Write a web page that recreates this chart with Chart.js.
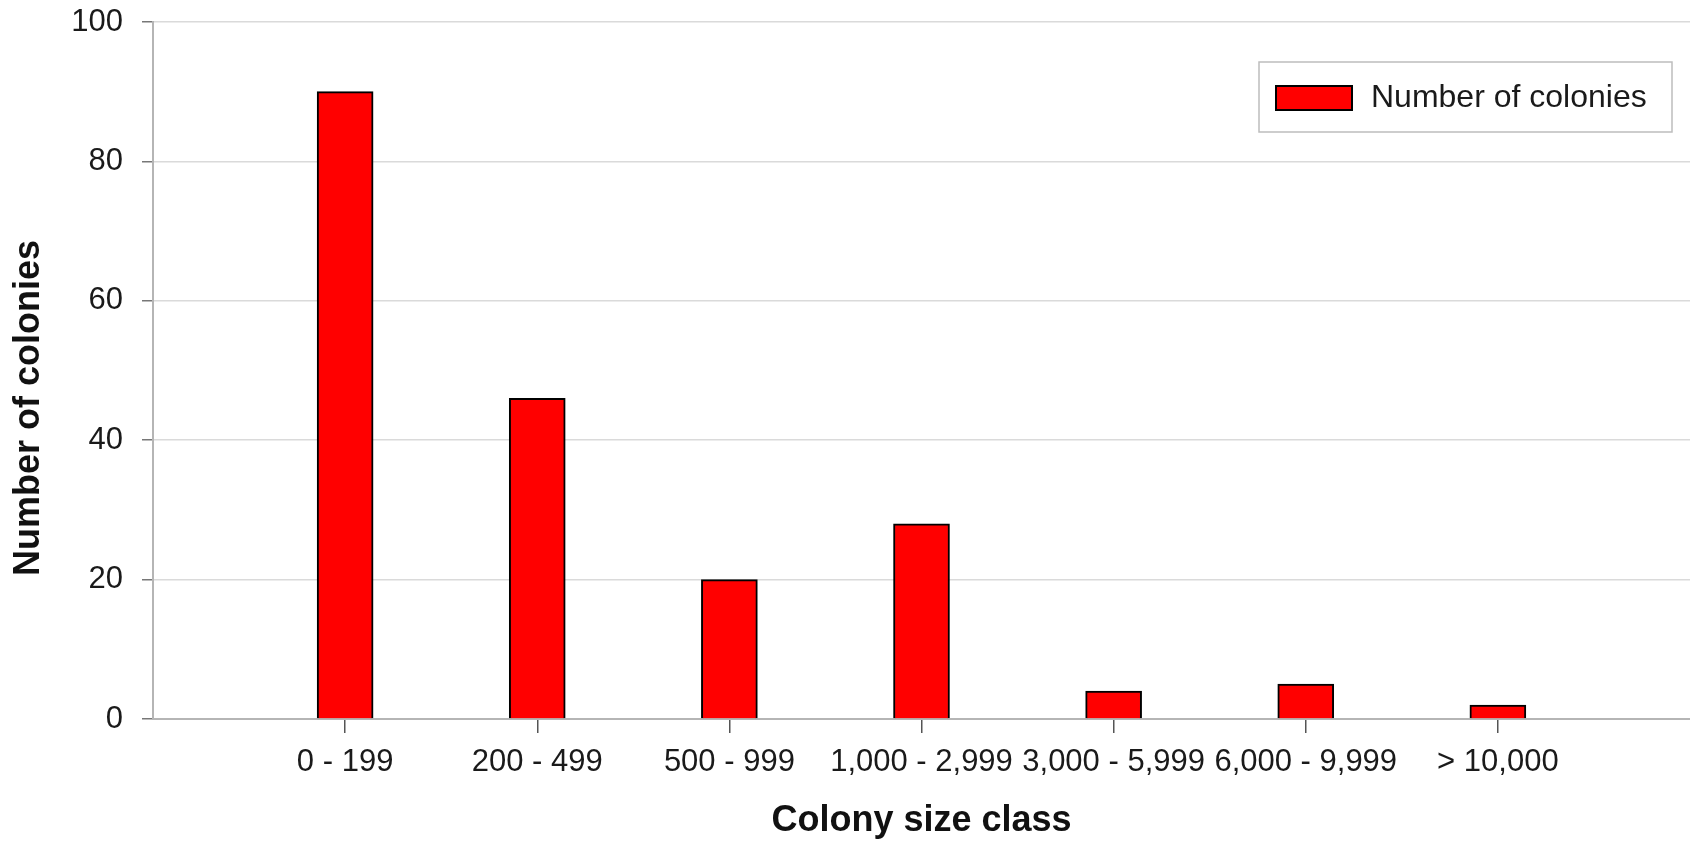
<!DOCTYPE html>
<html><head><meta charset="utf-8">
<script src="https://cdn.jsdelivr.net/npm/chart.js@4.4.1/dist/chart.umd.min.js"></script>
<style>html,body{margin:0;padding:0;background:#fff;overflow:hidden}#wrap{width:1690px;height:844px;position:relative}canvas{display:block}</style>
</head><body><div id="wrap"><canvas id="c" width="1690" height="844"></canvas></div>
<script>
const categories = ['0 - 199', '200 - 499', '500 - 999', '1,000 - 2,999', '3,000 - 5,999', '6,000 - 9,999', '> 10,000'];
const colonies = [90, 46, 20, 28, 4, 5, 2];
const yTicks = [0, 20, 40, 60, 80, 100];
const seriesName = 'Number of colonies';
const xTitle = 'Colony size class';
const yTitle = 'Number of colonies';

const labels = [''].concat(categories, ['']);
const values = [null].concat(colonies, [null]);
const FONT = '"Liberation Sans", Arial, Helvetica, sans-serif';

const overlay = {
  id: 'overlay',
  afterDraw(chart) {
    const ctx = chart.ctx;
    const ds = chart.data.datasets[0];
    ctx.save();
    // y-axis title
    ctx.translate(29, 408);
    ctx.rotate(-Math.PI / 2);
    ctx.font = 'bold 36px ' + FONT;
    ctx.fillStyle = '#111';
    ctx.textAlign = 'center';
    ctx.textBaseline = 'middle';
    ctx.fillText(yTitle, 0, 0);
    ctx.restore();
    // legend box
    ctx.save();
    ctx.fillStyle = '#fff';
    ctx.fillRect(1259, 62, 413, 70);
    ctx.strokeStyle = '#bdbdbd';
    ctx.lineWidth = 1.5;
    ctx.strokeRect(1259, 62, 413, 70);
    ctx.fillStyle = ds.backgroundColor;
    ctx.fillRect(1276, 86, 76, 24);
    ctx.strokeStyle = ds.borderColor;
    ctx.lineWidth = 2;
    ctx.strokeRect(1276, 86, 76, 24);
    ctx.font = '32px ' + FONT;
    ctx.fillStyle = '#1a1a1a';
    ctx.textAlign = 'left';
    ctx.textBaseline = 'middle';
    ctx.fillText(ds.label, 1371, 98);
    ctx.restore();
  }
};

new Chart(document.getElementById('c'), {
  type: 'bar',
  data: {
    labels: labels,
    datasets: [{
      label: seriesName,
      data: values,
      backgroundColor: '#ff0000',
      borderColor: '#000000',
      borderWidth: 2,
      barThickness: 56
    }]
  },
  options: {
    responsive: false,
    animation: false,
    devicePixelRatio: 1,
    layout: { padding: { top: 22, right: -5, bottom: 0, left: 0 } },
    plugins: { legend: { display: false }, tooltip: { enabled: false } },
    scales: {
      x: {
        type: 'category',
        offset: false,
        grid: {
          offset: false,
          drawOnChartArea: false,
          drawTicks: true,
          tickLength: 14,
          lineWidth: 1.5,
          color: (c) => (c.index === 0 || c.index === labels.length - 1) ? 'rgba(0,0,0,0)' : '#555'
        },
        border: { display: true, color: '#b5b5b5', width: 2 },
        ticks: { autoSkip: false, maxRotation: 0, minRotation: 0, padding: 11, color: '#1a1a1a', font: { family: FONT, size: 31 } },
        title: { display: true, text: xTitle, color: '#111', font: { family: FONT, size: 36, weight: 'bold' }, padding: { top: 0, bottom: 1 } },
        afterFit: (s) => { s.height = 125; s.paddingLeft = 0; s.paddingRight = 0; }
      },
      y: {
        min: 0,
        max: 100,
        afterBuildTicks: (s) => { s.ticks = yTicks.map(v => ({ value: v })); },
        grid: { color: '#dadada', lineWidth: 1.5, tickColor: '#777', tickLength: 11, drawTicks: true },
        border: { display: true, color: '#b5b5b5', width: 2 },
        ticks: { padding: 19, color: '#1a1a1a', font: { family: FONT, size: 31 } },
        afterFit: (s) => { s.width = 153; s.paddingTop = 0; s.paddingBottom = 0; }
      }
    }
  },
  plugins: [overlay]
});
</script>
</body></html>
